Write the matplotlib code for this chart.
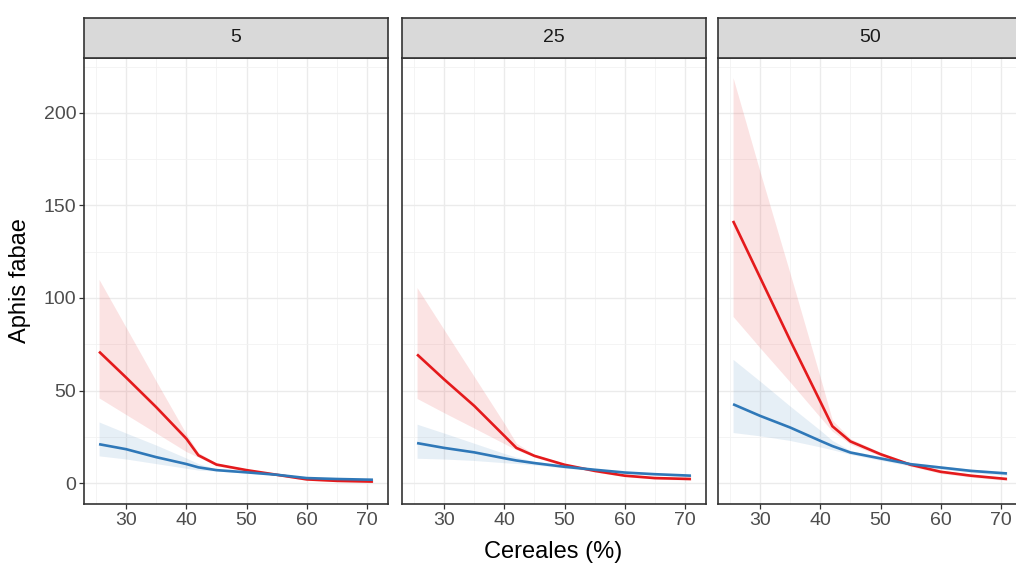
import numpy as np
import matplotlib
matplotlib.use("Agg")
import matplotlib.pyplot as plt

plt.rcParams["font.family"] = ["Liberation Sans", "DejaVu Sans"]

# facet labels
facets = ["5", "25", "50"]

# cereal cover (%) where the curves are read
cereales = [25.5, 30, 35, 40, 42, 45, 50, 55, 60, 65, 71]

# red group: fitted line and confidence band, one list per facet
red_fit = [
    [71, 57, 41, 24, 15, 10, 7, 4.5, 2, 1.2, 0.8],
    [69.5, 56, 41.7, 25.5, 19, 14.7, 9.9, 6.6, 4, 2.7, 2.2],
    [141.6, 111, 77, 44, 30.7, 22.5, 15.6, 9.9, 6.1, 4, 2.2],
]
red_hi = [
    [110, 84, 55, 26.5, 16.5, 10.8, 7.6, 5, 2.5, 1.7, 1.4],
    [105.6, 82.8, 57.5, 32.2, 21.5, 15.5, 10.6, 7.2, 4.6, 3.3, 2.8],
    [219, 168, 113, 57, 34, 24, 16.6, 10.8, 7, 4.8, 3],
]
red_lo = [
    [46, 37, 27, 17, 14, 9.3, 6.4, 4, 1.5, 0.8, 0.3],
    [45.7, 38, 29.7, 21.3, 18, 14, 9.2, 6, 3.4, 2.1, 1.6],
    [90, 73, 54.5, 35.5, 28, 21, 14.6, 9, 5.2, 3.2, 1.4],
]

# blue group
blue_fit = [
    [21, 18.3, 14, 10.3, 8.5, 7, 5.8, 4.5, 2.7, 2.2, 1.8],
    [21.6, 19, 16.6, 13.4, 12.2, 10.8, 8.8, 7.2, 5.7, 4.8, 4],
    [42.6, 36.3, 30, 22.8, 20, 16.5, 13.3, 10.2, 8.4, 6.6, 5.2],
]
blue_hi = [
    [33, 27, 20.5, 13.5, 10.5, 7.6, 6.2, 4.9, 3.1, 2.6, 2.3],
    [31.8, 27, 21.5, 16, 14, 11.8, 9.5, 7.8, 6.2, 5.3, 4.6],
    [66.8, 55, 41.5, 28.5, 23, 17.5, 14.3, 11.2, 9.3, 7.5, 6.2],
]
blue_lo = [
    [14.7, 13, 10.5, 8, 7, 6.5, 5.4, 4.1, 2.3, 1.8, 1.3],
    [13.4, 13, 12.2, 11, 10.6, 9.8, 8.1, 6.6, 5.2, 4.3, 3.4],
    [27.3, 25.5, 23, 19.5, 18, 15.5, 12.3, 9.2, 7.5, 5.7, 4.2],
]

x_ticks = [30, 40, 50, 60, 70]
y_ticks = [0, 50, 100, 150, 200]

RED = "#E41A1C"
BLUE = "#2F78B8"
BORDER = "#333333"

W, H = 1016, 567
fig = plt.figure(figsize=(W / 100, H / 100), dpi=100)

panel_left = [84, 402, 718]
panel_w = 304
panel_top, panel_bot, strip_top = 58, 504, 18

for i, name in enumerate(facets):
    l = panel_left[i] / W
    ax = fig.add_axes([l, 1 - panel_bot / H, panel_w / W, (panel_bot - panel_top) / H])
    ax.fill_between(cereales, red_lo[i], red_hi[i], color=RED, alpha=0.12, lw=0)
    ax.fill_between(cereales, blue_lo[i], blue_hi[i], color="#377EB8", alpha=0.12, lw=0)
    ax.plot(cereales, red_fit[i], color=RED, lw=1.9, solid_capstyle="butt")
    ax.plot(cereales, blue_fit[i], color=BLUE, lw=1.9, solid_capstyle="butt")

    ax.set_xlim(23.0, 73.5)
    ax.set_ylim(-11.3, 229.6)
    ax.set_xticks(x_ticks)
    ax.set_yticks(y_ticks)
    ax.set_xticks(np.arange(25, 75, 10), minor=True)
    ax.set_yticks(np.arange(25, 250, 50), minor=True)
    ax.grid(which="major", color="#EBEBEB", lw=1.0)
    ax.grid(which="minor", color="#F2F2F2", lw=0.6)
    ax.set_axisbelow(True)
    ax.tick_params(which="major", length=3.5, width=0.9, color=BORDER,
                   labelsize=14, labelcolor="#4D4D4D", pad=2)
    ax.tick_params(which="minor", length=0)
    if i > 0:
        ax.tick_params(axis="y", left=False, labelleft=False)
    for s in ax.spines.values():
        s.set_color(BORDER)
        s.set_linewidth(1.2)

    # facet strip
    sax = fig.add_axes([l, 1 - panel_top / H, panel_w / W, (panel_top - strip_top) / H])
    sax.set_facecolor("#D9D9D9")
    sax.set_xticks([])
    sax.set_yticks([])
    for s in sax.spines.values():
        s.set_color(BORDER)
        s.set_linewidth(1.2)
    sax.text(0.5, 0.5, name, ha="center", va="center", fontsize=14,
             color="#1A1A1A", transform=sax.transAxes)

fig.text(20 / W, 1 - 281 / H, "Aphis fabae", rotation=90, ha="center",
         va="center", fontsize=17, color="black")
fig.text(553 / W, 1 - 552 / H, "Cereales (%)", ha="center", va="center",
         fontsize=17, color="black")

fig.savefig("out.png", dpi=100, facecolor="white")
